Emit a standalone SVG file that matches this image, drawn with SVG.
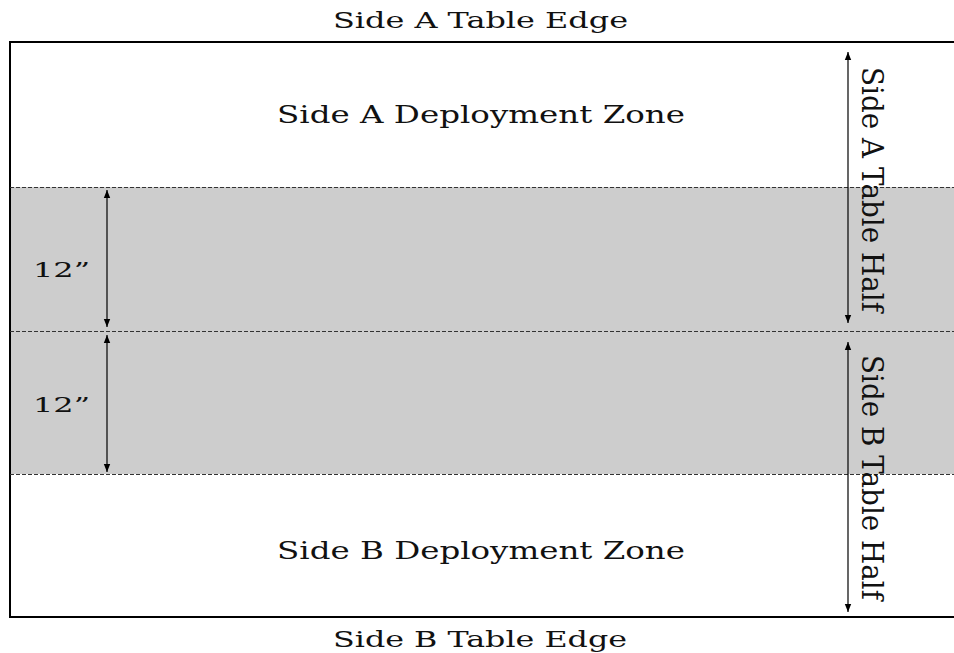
<svg xmlns="http://www.w3.org/2000/svg" width="954" height="653" viewBox="0 0 954 653">
<defs>
<style>
.t{font-family:"DejaVu Serif","Liberation Serif",serif;fill:#111;}
.dash{stroke:#333;stroke-width:1;stroke-dasharray:4 2;fill:none;}
.dim{stroke:#000;stroke-width:1.2;fill:none;marker-start:url(#ah);marker-end:url(#ah);}
</style>
<marker id="ah" viewBox="0 0 10 10" refX="10" refY="5" markerWidth="8" markerHeight="8" markerUnits="userSpaceOnUse" orient="auto-start-reverse">
<path d="M0,1 L10,5 L0,9 z" fill="#000"/>
</marker>
</defs>
<rect width="954" height="653" fill="#fff"/>
<g id="table">
<rect x="10" y="187" width="950" height="287" fill="#cdcdcd"/>
<rect x="10" y="42" width="960" height="575" fill="none" stroke="#000" stroke-width="2"/>
</g>
<g id="zones">
<line class="dash" x1="10" y1="187.5" x2="954" y2="187.5"/>
<line class="dash" x1="10" y1="331.5" x2="954" y2="331.5"/>
<line class="dash" x1="10" y1="474.5" x2="954" y2="474.5"/>
</g>
<g id="connectors">
<line class="dim" x1="107" y1="190" x2="107" y2="327"/>
<line class="dim" x1="107" y1="335" x2="107" y2="472"/>
<line class="dim" x1="848" y1="52" x2="848" y2="323"/>
<line class="dim" x1="848" y1="342" x2="848" y2="612"/>
</g>
<g id="labels">
<text id="sideA-edge" class="t" x="480.5" y="28" font-size="23" text-anchor="middle" textLength="295" lengthAdjust="spacingAndGlyphs">Side A Table Edge</text>
<text id="sideA-zone" class="t" x="481" y="123" font-size="25" text-anchor="middle" textLength="408" lengthAdjust="spacingAndGlyphs">Side A Deployment Zone</text>
<text id="sideB-zone" class="t" x="481" y="559" font-size="25" text-anchor="middle" textLength="408" lengthAdjust="spacingAndGlyphs">Side B Deployment Zone</text>
<text id="sideB-edge" class="t" x="480" y="647" font-size="23" text-anchor="middle" textLength="294" lengthAdjust="spacingAndGlyphs">Side B Table Edge</text>
<text id="dim1" class="t" x="33" y="277" font-size="21" textLength="57" lengthAdjust="spacingAndGlyphs">12”</text>
<text id="dim2" class="t" x="33" y="412" font-size="21" textLength="57" lengthAdjust="spacingAndGlyphs">12”</text>
<text id="sideA-half" class="t" transform="translate(862,189.5) rotate(90)" font-size="29" text-anchor="middle" textLength="245" lengthAdjust="spacingAndGlyphs">Side A Table Half</text>
<text id="sideB-half" class="t" transform="translate(862,477.5) rotate(90)" font-size="29" text-anchor="middle" textLength="245" lengthAdjust="spacingAndGlyphs">Side B Table Half</text>
</g>
</svg>
